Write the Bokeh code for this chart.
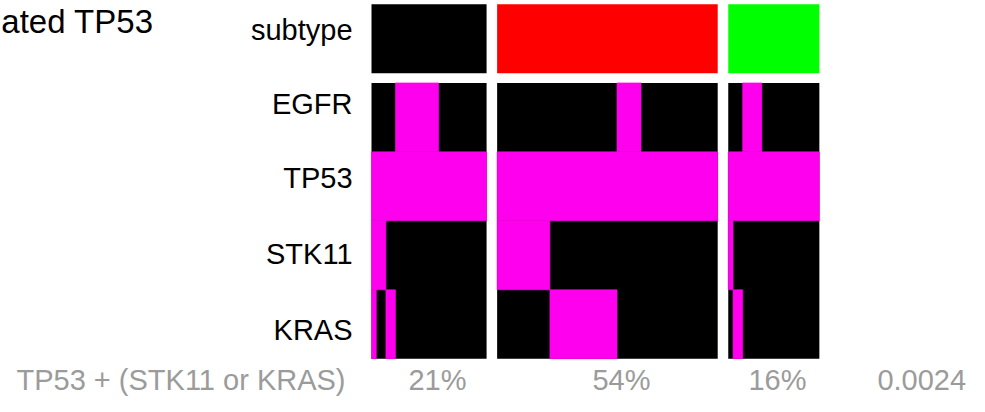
from bokeh.plotting import figure
from bokeh.models import ColumnDataSource, Range1d
from bokeh.core.properties import value
from bokeh.embed import file_html
from bokeh.resources import INLINE

# ---------------- data ----------------
title_text = "ated TP53"
subtype_colors = ["#000000", "#FF0000", "#00FF00"]
block_sizes = [24, 46, 19]
genes = ["EGFR", "TP53", "STK11", "KRAS"]
row_labels = ["subtype", "EGFR", "TP53", "STK11", "KRAS"]

# per-sample mutation status (1 = mutated) for each block
egfr_b1 = "000001111111110000000000"
tp53_b1 = "111111111111111111111111"
stk11_b1 = "111000000000000000000000"
kras_b1 = "100110000000000000000000"

egfr_b2 = "0000000000000000000000000111110000000000000000"
tp53_b2 = "1111111111111111111111111111111111111111111111"
stk11_b2 = "1111111111100000000000000000000000000000000000"
kras_b2 = "0000000000011111111111111000000000000000000000"

egfr_b3 = "0001111000000000000"
tp53_b3 = "1111111111111111111"
stk11_b3 = "1000000000000000000"
kras_b3 = "0110000000000000000"

summary_label = "TP53 + (STK11 or KRAS)"
pct_labels = ["21%", "54%", "16%"]
p_value_label = "0.0024"

# ---------------- styles / layout ----------------
MUT = "#FF00EE"
WT = "#000000"
GREY = "#9B9B9B"
FONT = value("Liberation Sans")
GAP = 2.2
ROW_Y = {"EGFR": 3, "TP53": 2, "STK11": 1, "KRAS": 0}
SUBTYPE_Y = 4.14
LABEL_Y = [4.260, 3.200, 2.127, 1.015, -0.090]
TITLE_Y = 4.390
BOTTOM_Y = -0.812

mut_blocks = [
    {"EGFR": egfr_b1, "TP53": tp53_b1, "STK11": stk11_b1, "KRAS": kras_b1},
    {"EGFR": egfr_b2, "TP53": tp53_b2, "STK11": stk11_b2, "KRAS": kras_b2},
    {"EGFR": egfr_b3, "TP53": tp53_b3, "STK11": stk11_b3, "KRAS": kras_b3},
]

p = figure(width=969, height=396, output_backend="svg", toolbar_location=None,
           x_axis_type=None, y_axis_type=None, min_border=0,
           x_range=Range1d(-77.37, 124.71), y_range=Range1d(-1.048, 4.695))
p.grid.visible = False
p.outline_line_color = None
p.background_fill_color = "white"
p.border_fill_color = "white"

offsets = []
o = 0.0
for n in block_sizes:
    offsets.append(o)
    o += n + GAP
ends = [a + n for a, n in zip(offsets, block_sizes)]

# subtype row
p.quad(left=offsets, right=ends,
       bottom=[SUBTYPE_Y - 0.5] * 3, top=[SUBTYPE_Y + 0.5] * 3,
       fill_color=subtype_colors, line_color=None)

# black background per block for gene rows
p.quad(left=offsets, right=ends, bottom=[-0.5] * 3, top=[3.5] * 3,
       fill_color=WT, line_color=None)

# mutated runs
L, R, B, T = [], [], [], []
for off, blk in zip(offsets, mut_blocks):
    for g in genes:
        s = blk[g]
        i = 0
        while i < len(s):
            if s[i] == "1":
                j = i
                while j < len(s) and s[j] == "1":
                    j += 1
                L.append(off + i)
                R.append(off + j)
                B.append(ROW_Y[g] - 0.5)
                T.append(ROW_Y[g] + 0.5)
                i = j
            else:
                i += 1
src = ColumnDataSource(dict(left=L, right=R, bottom=B, top=T))
p.quad(left="left", right="right", bottom="bottom", top="top", source=src,
       fill_color=MUT, line_color=MUT, line_width=0.6)

# title (runs off the left edge)
p.text(x=[-77.2], y=[TITLE_Y], text=[title_text], text_font=FONT,
       text_font_size="33px", text_align="left", text_baseline="alphabetic",
       text_color="black")

# row labels
p.text(x=[-3.96] * 5, y=LABEL_Y, text=row_labels,
       text_font=FONT, text_font_size="29px", text_align="right",
       text_baseline="alphabetic", text_color="black")

# bottom summary row
p.text(x=[-5.42], y=[BOTTOM_Y], text=[summary_label], text_font=FONT,
       text_font_size="29px", text_align="right", text_baseline="alphabetic",
       text_color=GREY)
p.text(x=[13.76, 52.14, 84.67], y=[BOTTOM_Y] * 3,
       text=pct_labels, text_font=FONT,
       text_font_size="29px", text_align="center", text_baseline="alphabetic",
       text_color=GREY)
p.text(x=[124.0], y=[BOTTOM_Y], text=[p_value_label], text_font=FONT,
       text_font_size="29px", text_align="right", text_baseline="alphabetic",
       text_color=GREY)

open("out.html", "w").write(file_html(p, INLINE))
